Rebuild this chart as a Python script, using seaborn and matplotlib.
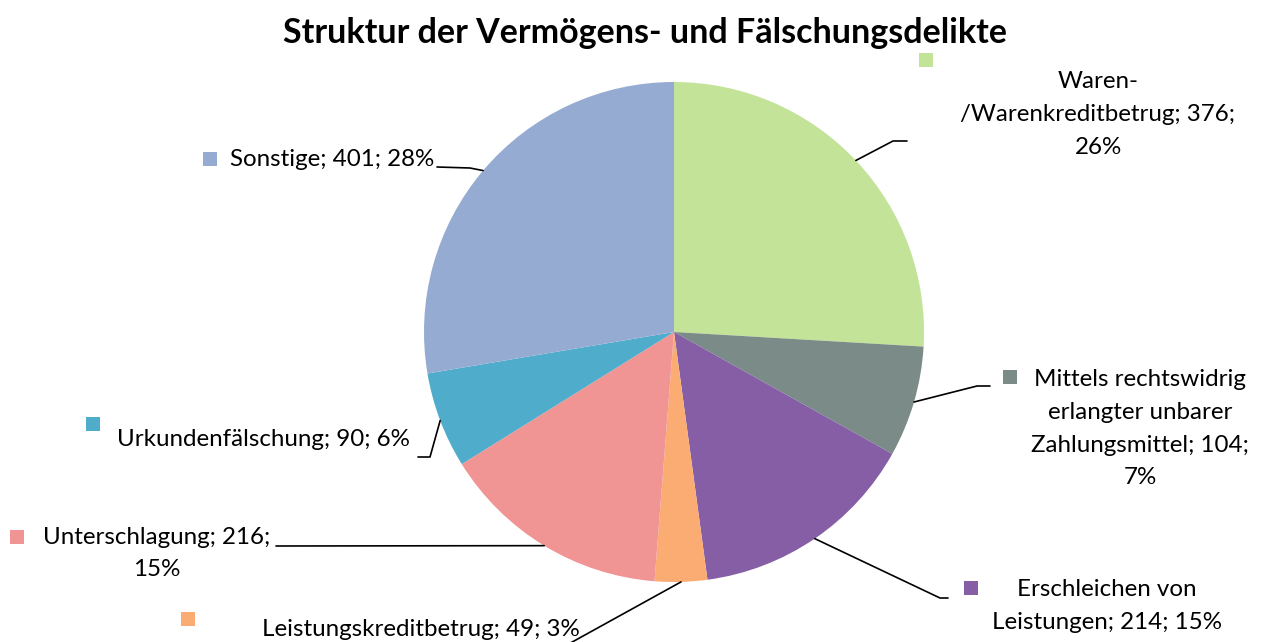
import numpy as np
import seaborn as sns
import matplotlib.pyplot as plt

sns.set_theme(style="white")
plt.rcParams['font.family'] = ['Lato', 'DejaVu Sans']

# Daten
kategorien = ['Waren-\n/Warenkreditbetrug', 'Mittels rechtswidrig\nerlangter unbarer\nZahlungsmittel',
              'Erschleichen von\nLeistungen', 'Leistungskreditbetrug', 'Unterschlagung',
              'Urkundenfälschung', 'Sonstige']
werte = [376, 104, 214, 49, 216, 90, 401]
prozent = ['26%', '7%', '15%', '3%', '15%', '6%', '28%']
farben = ['#C3E399', '#7B8B87', '#855EA5', '#FBAC72', '#F09494', '#4FADCB', '#96ABD2']

# Beschriftungstexte (wie in Excel umbrochen)
texte = ['Waren-\n/Warenkreditbetrug; 376;\n26%',
         'Mittels rechtswidrig\nerlangter unbarer\nZahlungsmittel; 104;\n7%',
         'Erschleichen von\nLeistungen; 214; 15%',
         'Leistungskreditbetrug; 49; 3%',
         'Unterschlagung; 216;\n15%',
         'Urkundenfälschung; 90; 6%',
         'Sonstige; 401; 28%']

W, H = 1264, 642
fig = plt.figure(figsize=(W / 100, H / 100), dpi=100)
ax = fig.add_axes([0, 0, 1, 1])


def Y(py):
    return H - py


cx, cy, r = 674, Y(332), 250
ax.pie(werte, colors=farben, startangle=90, counterclock=False,
       center=(cx, cy), radius=r, wedgeprops=dict(linewidth=0))
ax.set_xlim(0, W)
ax.set_ylim(0, H)
ax.set_aspect('equal')
ax.set_axis_off()

# Layout der Beschriftungen (Pixel, y nach unten): Mitte der ersten Zeile
layout = [
    dict(text=(1098, 82), ha='center', sq=(926, 60), knick=(893, 141), ende=(907, 141)),
    dict(text=(1140, 380), ha='center', sq=(1010, 377), knick=(977, 386), ende=(990, 386)),
    dict(text=(1107, 590), ha='center', sq=(971, 588), knick=(940, 598), ende=(948, 598)),
    dict(text=(262, 630), ha='left', sq=(188, 619), knick=(565, 646), ende=(555, 646)),
    dict(text=(157, 537), ha='center', sq=(17, 537), knick=(276, 546), ende=(276, 546)),
    dict(text=(117, 440), ha='left', sq=(93, 424), knick=(430, 457), ende=(418, 457)),
    dict(text=(230, 160), ha='left', sq=(210, 159), knick=(470, 168), ende=(437, 167)),
]

gesamt = sum(werte)
kum = 0
for wert, farbe, txt, lay in zip(werte, farben, texte, layout):
    mitte = (kum + wert / 2) / gesamt * 360
    kum += wert
    theta = np.deg2rad(90 - mitte)
    x0, y0 = cx + r * np.cos(theta), cy + r * np.sin(theta)
    kx, ky = lay['knick']
    ex, ey = lay['ende']
    ax.plot([x0, kx, ex], [y0, Y(ky), Y(ey)], color='black', lw=1.2, clip_on=True)
    sx, sy = lay['sq']
    ax.add_patch(plt.Rectangle((sx - 7, Y(sy) - 7), 14, 14, color=farbe, lw=0))
    tx, ty = lay['text']
    # Zeilen einzeln setzen, Abstand 32.5 px
    for i, zeile in enumerate(txt.split('\n')):
        ax.text(tx, Y(ty + i * 32.5), zeile, ha=lay['ha'], va='center',
                fontsize=17.4, color='black')

fig.text(645 / W, 1 - 33 / H, 'Struktur der Vermögens- und Fälschungsdelikte',
         ha='center', va='center', fontsize=24.5, fontweight='bold', color='black')

fig.savefig('out.png', dpi=100, facecolor='white')
